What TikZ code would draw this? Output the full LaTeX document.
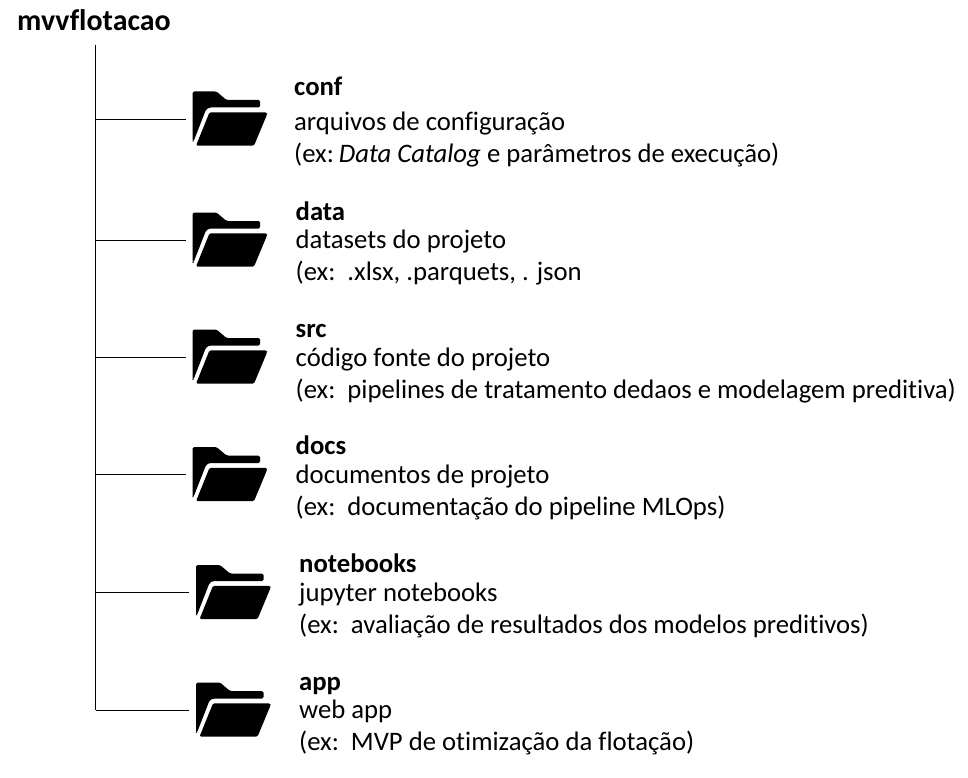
\documentclass[tikz,border=0pt]{standalone}
\usepackage{fontspec}
\setmainfont{Carlito}[Ligatures=NoCommon]
\tikzset{
 lbl/.style={anchor=base west,inner sep=0pt,font=\fontsize{26.7}{30}\selectfont},
 ttl/.style={anchor=base west,inner sep=0pt,font=\fontsize{26.7}{30}\selectfont\bfseries},
 rootl/.style={anchor=base west,inner sep=0pt,font=\fontsize{29.9}{32}\selectfont\bfseries},
 conn/.style={draw=black,line width=0.75pt},
 pics/fold/.style={code={
  \fill[black,rounded corners=1.5pt] (0,0) -- (24,0) -- (34,8.5) -- (67.5,8.5) -- (67.5,16) -- (17,16) -- (13.5,18) -- (1,50) -- (0,50) -- cycle;
  \fill[black,rounded corners=1.5pt] (17,20.8) -- (74.5,20.8) -- (74.5,23) -- (61.5,54.2) -- (3.5,54.2) -- cycle;
 }}
}
\begin{document}
\begin{tikzpicture}[x=1pt,y=-1pt]
\useasboundingbox (0,0) rectangle (968,778);
\node[rootl] (root) at (17,31) {mvvflotacao};
\coordinate (top) at (95.5,45);
\coordinate (s1) at (95.5,119);
\coordinate (s2) at (95.5,240);
\coordinate (s3) at (95.5,357);
\coordinate (s4) at (95.5,474);
\coordinate (s5) at (95.5,592);
\coordinate (s6) at (95.5,710);
\coordinate (e1) at (186,119);
\coordinate (e2) at (186,240);
\coordinate (e3) at (186,357);
\coordinate (e4) at (186,474);
\coordinate (e5) at (189,592);
\coordinate (e6) at (189,710);
\draw[conn] (top) -- (s6);
\foreach \i in {1,...,6} \draw[conn] (s\i) -- (e\i);
\pic at (192.5,91.5) {fold};
\pic at (192.5,212.5) {fold};
\pic at (192.5,329.5) {fold};
\pic at (192.5,447) {fold};
\pic at (196,565) {fold};
\pic at (196,682.5) {fold};
\node[ttl] (t1) at (294,96) {conf};
\node[lbl] (a1) at (294,131) {arquivos de configuração};
\node[lbl] (b1) at (294,163) {(ex:\kern-1pt\ \textit{Data Catalog} e parâmetros de execução)};
\node[ttl] (t2) at (295.5,220) {data};
\node[lbl] (a2) at (295.5,248) {datasets do projeto};
\node[lbl] (b2) at (295.5,280) {(ex:\ \ .xlsx, .parquets, . json};
\node[ttl] (t3) at (295.5,337) {src};
\node[lbl] (a3) at (295.5,366) {código fonte do projeto};
\node[lbl] (b3) at (295.5,398) {(ex:\ \ pipelines de tratamento dedaos e modelagem preditiva)};
\node[ttl] (t4) at (295.5,454) {docs};
\node[lbl] (a4) at (295.5,483) {documentos de projeto};
\node[lbl] (b4) at (295.5,515) {(ex:\ \ documentação do pipeline MLOps)};
\node[ttl] (t5) at (299,572) {notebooks};
\node[lbl] (a5) at (299,601) {jupyter notebooks};
\node[lbl] (b5) at (299,633) {(ex:\ \ avaliação de resultados dos modelos preditivos)};
\node[ttl] (t6) at (299,690) {app};
\node[lbl] (a6) at (299,718) {web app};
\node[lbl] (b6) at (299,750) {(ex:\ \ MVP de otimização da flotação)};
\end{tikzpicture}
\end{document}
